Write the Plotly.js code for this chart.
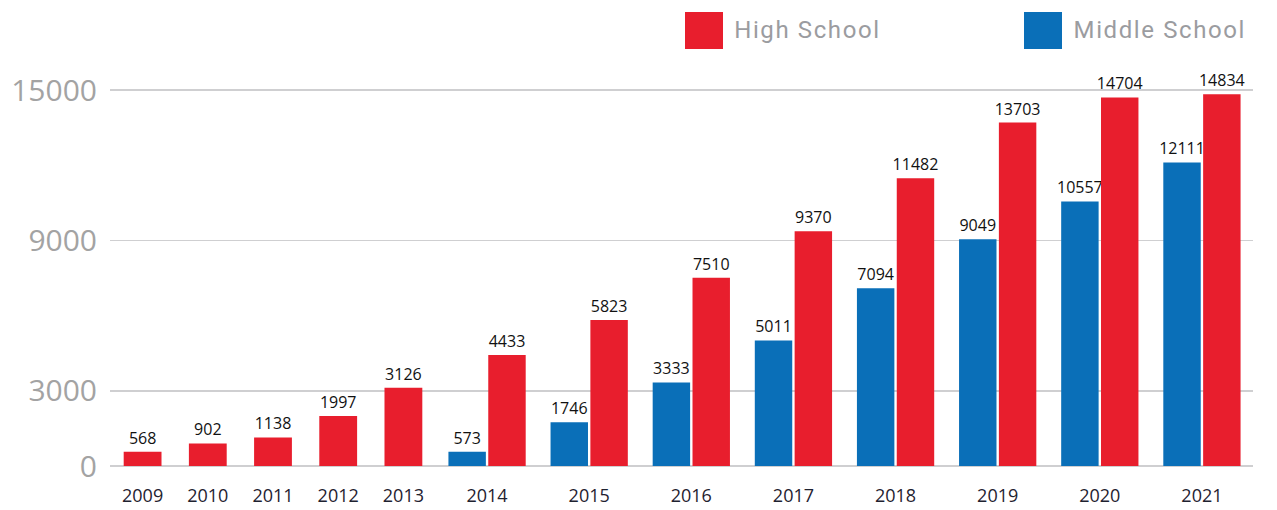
<!DOCTYPE html>
<html>
<head>
<meta charset="utf-8">
<script src="https://cdn.plot.ly/plotly-3.0.1.min.js"></script>
<style>
html,body{margin:0;padding:0;background:#fff;}
#chart{width:1277px;height:510px;}
#chart .annotation-text{letter-spacing:1.6px;}
</style>
</head>
<body>
<div id="chart"></div>
<script>
// ---- data ----
const years = ["2009","2010","2011","2012","2013","2014","2015","2016","2017","2018","2019","2020","2021"];
const highSchool = [568, 902, 1138, 1997, 3126, 4433, 5823, 7510, 9370, 11482, 13703, 14704, 14834];
const middleSchool = [null, null, null, null, null, 573, 1746, 3333, 5011, 7094, 9049, 10557, 12111];
const yTicks = [0, 3000, 9000, 15000];
const seriesNames = ["High School", "Middle School"];

// ---- styling ----
const RED = "#E81E2D";
const BLUE = "#0A6FB8";
const W = 1277, H = 510;
const M = {l: 110, r: 24, t: 80, b: 44};
const plotW = W - M.l - M.r, plotH = H - M.t - M.b;
const split = (436 - M.l) / plotW;
const px2x = p => (p - M.l) / plotW;
const px2y = p => (H - M.b - p) / plotH;

// years with only high-school data vs years with both
const earlyIdx = years.map((y, i) => i).filter(i => middleSchool[i] === null);
const lateIdx = years.map((y, i) => i).filter(i => middleSchool[i] !== null);
const pick = (arr, idx) => idx.map(i => arr[i]);

const labelFont = {family: "Open Sans, sans-serif", size: 16, color: "#111"};
const barText = {
  texttemplate: "%{y:d}", textposition: "outside", textfont: labelFont,
  cliponaxis: false, constraintext: "none", showlegend: false, hoverinfo: "x+y+name"
};

const traces = [
  Object.assign({
    type: "bar", name: seriesNames[0], x: pick(years, earlyIdx), y: pick(highSchool, earlyIdx),
    xaxis: "x", yaxis: "y", marker: {color: RED}, width: 0.58
  }, barText),
  Object.assign({
    type: "bar", name: seriesNames[1], x: pick(years, lateIdx), y: pick(middleSchool, lateIdx),
    xaxis: "x2", yaxis: "y", marker: {color: BLUE}
  }, barText),
  Object.assign({
    type: "bar", name: seriesNames[0], x: pick(years, lateIdx), y: pick(highSchool, lateIdx),
    xaxis: "x2", yaxis: "y", marker: {color: RED}
  }, barText)
];

const xTickFont = {family: "Open Sans, sans-serif", size: 18, color: "#1f2230"};
const xCommon = {
  type: "category", showgrid: false, zeroline: false, showline: false,
  ticks: "", ticklabelstandoff: 17, tickfont: xTickFont, fixedrange: true
};

const legendFont = {family: "Roboto, sans-serif", size: 24, color: "#9b9ca0"};
const legendItems = [
  {color: RED, x0: 685, x1: 723, tx: 741, text: seriesNames[0]},
  {color: BLUE, x0: 1024, x1: 1062, tx: 1082, text: seriesNames[1]}
];

const layout = {
  width: W, height: H,
  margin: M,
  paper_bgcolor: "#fff", plot_bgcolor: "#fff",
  barmode: "group", bargap: 0.22, bargroupgap: 0.06,
  showlegend: false,
  separators: ".,",
  xaxis: Object.assign({domain: [0, split], anchor: "y"}, xCommon),
  xaxis2: Object.assign({domain: [split, 1], anchor: "y"}, xCommon),
  yaxis: {
    range: [0, 15400], tickmode: "array", tickvals: yTicks, ticktext: yTicks.map(String),
    showgrid: true, gridcolor: "#cfcfd1", gridwidth: 1.6,
    zeroline: true, zerolinecolor: "#cfcfd1", zerolinewidth: 2,
    showline: false, ticks: "", ticklabelstandoff: 12,
    tickfont: {family: "Open Sans, sans-serif", size: 30, color: "#a3a3a3"},
    fixedrange: true
  },
  shapes: legendItems.map(it => ({
    type: "rect", xref: "paper", yref: "paper",
    x0: px2x(it.x0), x1: px2x(it.x1), y0: px2y(49), y1: px2y(12),
    fillcolor: it.color, line: {width: 0}
  })),
  annotations: legendItems.map(it => ({
    xref: "paper", yref: "paper", x: px2x(it.tx), y: px2y(30),
    xanchor: "left", yanchor: "middle", showarrow: false,
    text: it.text, font: legendFont
  }))
};

Plotly.newPlot("chart", traces, layout, {displayModeBar: false, staticPlot: true});
</script>
</body>
</html>
